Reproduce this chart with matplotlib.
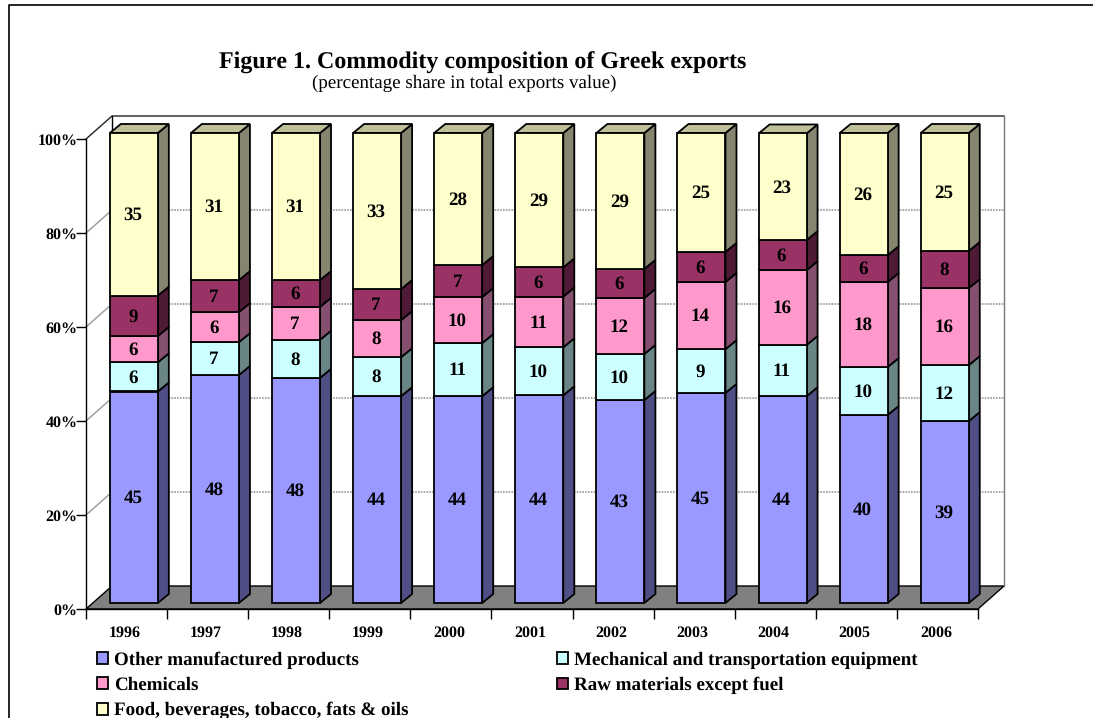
import numpy as np
import matplotlib
matplotlib.use("Agg")
import matplotlib.pyplot as plt
from matplotlib.patches import Polygon

years = ['1996', '1997', '1998', '1999', '2000', '2001', '2002', '2003', '2004', '2005', '2006']
other = [45.0, 48.5, 47.9, 44.0, 44.0, 44.2, 43.2, 44.7, 44.0, 40.0, 38.7]
mech = [6.2, 7.0, 8.1, 8.3, 11.3, 10.2, 9.8, 9.3, 10.9, 10.2, 11.9]
chem = [5.6, 6.4, 7.0, 7.9, 9.8, 10.8, 11.9, 14.3, 15.9, 18.1, 16.4]
raw = [8.6, 6.8, 5.7, 6.6, 6.8, 6.2, 6.2, 6.4, 6.4, 5.7, 7.9]
food = [34.6, 31.3, 31.3, 33.2, 28.1, 28.6, 28.9, 25.3, 22.7, 26.0, 25.1]

names = ['Other manufactured products', 'Mechanical and transportation equipment',
         'Chemicals', 'Raw materials except fuel', 'Food, beverages, tobacco, fats & oils']
series = [other, mech, chem, raw, food]
colors = ['#9999FF', '#CCFFFF', '#FF99CC', '#993366', '#FFFFCC']
sides = ['#4F4F85', '#6A8585', '#855070', '#4F1A35', '#858570']

plt.rcParams['font.family'] = 'Liberation Serif'
plt.rcParams['font.weight'] = 'bold'
plt.rcParams['text.hinting'] = 'no_hinting'
plt.rcParams['text.hinting_factor'] = 1

W, H = 1093, 718
fig = plt.figure(figsize=(W / 100, H / 100), dpi=100)
# axes box is the front plane of the 3d chart
ax = fig.add_axes([86 / W, 1 - 609 / H, 892 / W, 470 / H])
ax.set_xlim(0, 11)
ax.set_ylim(0, 100)
ax.patch.set_visible(False)

px = 11 / 892   # data units of x per pixel
py = 100 / 470  # data units of y per pixel
wall_dx, wall_dy = 26 * px, 23 * py
bar_dx, bar_dy = 11 * px, 9 * py
lift = 6 * py
pos = np.arange(len(years)) + 0.59
width = 48 * px

# floor and walls
ax.add_patch(Polygon([(0, 0), (11, 0), (11 + wall_dx, wall_dy), (wall_dx, wall_dy)],
                     fc='#808080', ec='black', lw=1, clip_on=False, zorder=1))
for g in [20, 40, 60, 80]:
    ax.plot([0, wall_dx], [g, g + wall_dy], color='#999999', lw=1, clip_on=False, zorder=1)
    ax.plot([wall_dx, 11 + wall_dx], [g + wall_dy, g + wall_dy], color='#999999',
            lw=1.2, ls=(0, (1, 0.7)), clip_on=False, zorder=1)
ax.plot([0, wall_dx, 11 + wall_dx], [100, 100 + wall_dy, 100 + wall_dy],
        color='#222222', lw=1, clip_on=False, zorder=1)
ax.plot([11 + wall_dx, 11 + wall_dx], [100 + wall_dy, wall_dy], color='#777777', lw=1, clip_on=False, zorder=1)
ax.plot([wall_dx, wall_dx], [wall_dy, 100 + wall_dy], color='black', lw=1, clip_on=False, zorder=1)

# stacked bars with side and top faces
bottom = np.zeros(len(years))
handles = []
for vals, name, col, side in zip(series, names, colors, sides):
    vals = np.array(vals)
    b = ax.bar(pos, vals, width, bottom=bottom + lift, color=col, edgecolor='black', lw=1.3,
               label=name, zorder=3, clip_on=False)
    handles.append(b)
    for x, v, y0 in zip(pos, vals, bottom + lift):
        r = x + width / 2
        ax.add_patch(Polygon([(r, y0), (r + bar_dx, y0 + bar_dy), (r + bar_dx, y0 + v + bar_dy), (r, y0 + v)],
                             fc=side, ec='black', lw=1.3, clip_on=False, zorder=2))
        ax.text(x - 1 * px, y0 + v / 2 - py, str(int(round(v))), ha='center', va='center', fontsize=14,
                fontweight='bold', zorder=5)
    bottom = bottom + vals
for x, t in zip(pos, bottom + lift):
    l = x - width / 2
    r = x + width / 2
    ax.add_patch(Polygon([(l, t), (r, t), (r + bar_dx, t + bar_dy), (l + bar_dx, t + bar_dy)],
                         fc='#BFBF99', ec='black', lw=1.3, clip_on=False, zorder=2))

for s in ['top', 'right']:
    ax.spines[s].set_visible(False)
ax.spines['left'].set_linewidth(1)
ax.spines['bottom'].set_linewidth(1)
ax.set_yticks([0, 20, 40, 60, 80, 100])
ax.set_yticklabels(['0%', '20%', '40%', '60%', '80%', '100%'], fontsize=11.2, fontweight='bold')
ax.set_xticks(np.arange(12))
ax.set_xticklabels([])
ax.set_xticks(np.arange(len(years)) + 0.48, labels=years, minor=True, fontsize=11.2, fontweight='bold')
ax.tick_params(axis='x', which='minor', length=0, pad=12)
ax.tick_params(axis='x', which='major', length=7, width=1)
ax.tick_params(axis='y', length=7, width=1, pad=-1)

fig.text(482.5 / W, 1 - 63 / H, 'Figure 1. Commodity composition of Greek exports', ha='center', va='center',
         fontsize=17.2, fontweight='bold')
fig.text(464 / W, 1 - 83 / H, '(percentage share in total exports value)', ha='center', va='center',
         fontsize=13.5, fontweight='normal')

# chart border, only left and top are in the picture
fig.add_artist(plt.Line2D([8.5 / W, 8.5 / W, 1], [0, 1 - 5 / H, 1 - 5 / H], color='black', lw=1.2))

order = [0, 2, 4, 1, 3]
leg = fig.legend([handles[i] for i in order], [names[i] for i in order], ncol=2, loc='upper left',
                 bbox_to_anchor=(97 / W, 1 - 651.5 / H), frameon=False, borderpad=0, borderaxespad=0,
                 fontsize=13.4, handlelength=0.6, handleheight=0.6, handletextpad=0.3,
                 labelspacing=0.42, columnspacing=8.0)

fig.savefig('out.png', dpi=100)
